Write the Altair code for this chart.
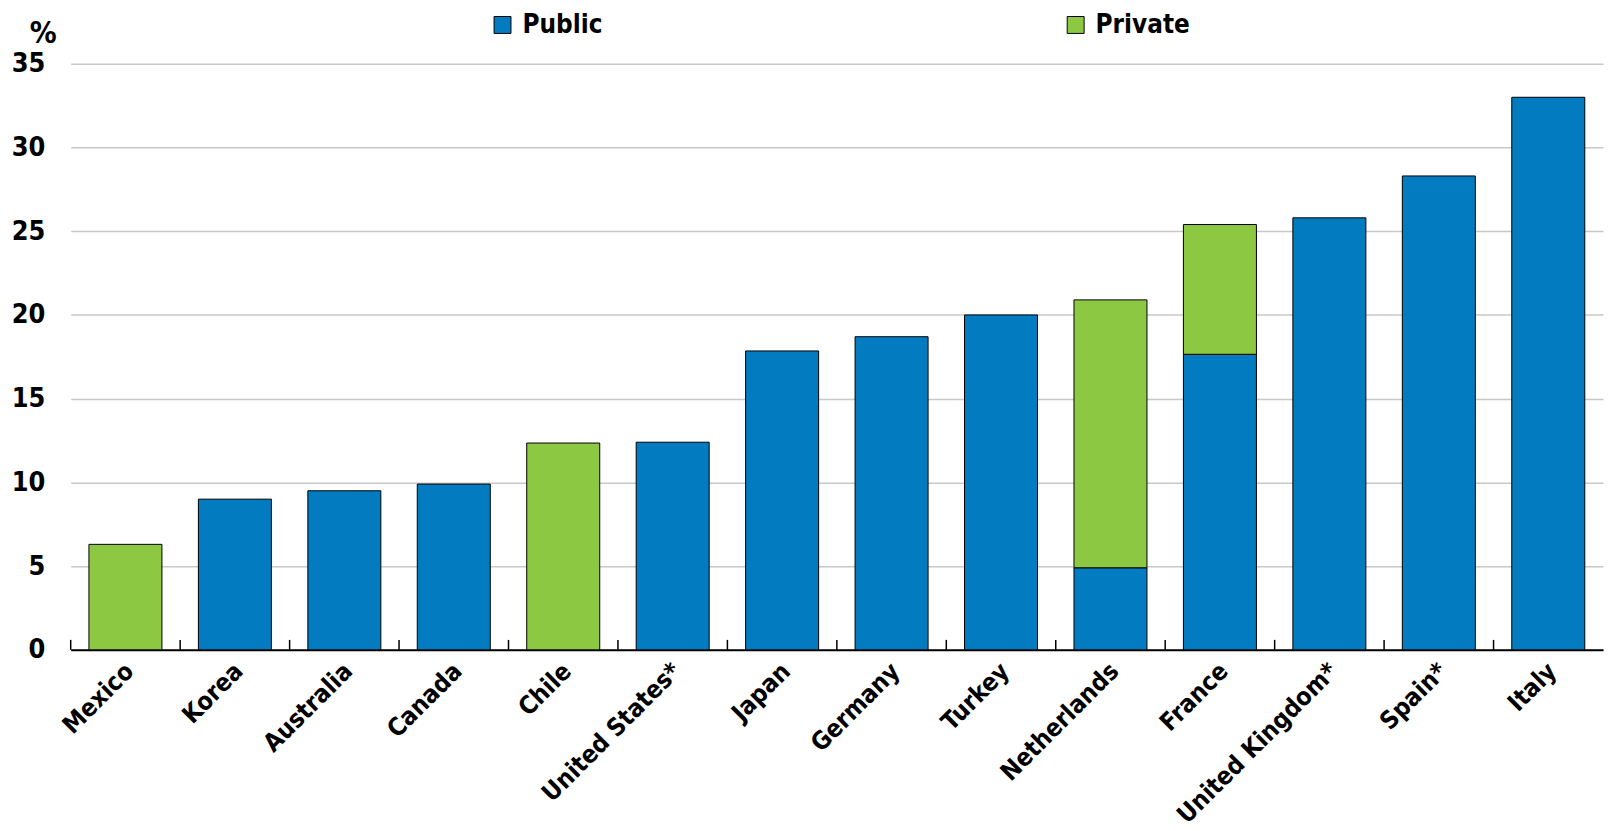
import altair as alt
import pandas as pd

FONT = "DejaVu Sans Condensed, Liberation Sans Narrow, sans-serif"

countries = [
    "Mexico", "Korea", "Australia", "Canada", "Chile", "United States*", "Japan",
    "Germany", "Turkey", "Netherlands", "France", "United Kingdom*", "Spain*", "Italy",
]
public = [0.0, 9.0, 9.5, 9.9, 0.0, 12.4, 17.85, 18.7, 20.0, 4.9, 17.65, 25.8, 28.3, 33.0]
private = [6.3, 0.0, 0.0, 0.0, 12.35, 0.0, 0.0, 0.0, 0.0, 16.0, 7.75, 0.0, 0.0, 0.0]

series = ["Public", "Private"]
colors = ["#037BC1", "#8CC841"]

rows = []
for c, pu, pr in zip(countries, public, private):
    if pu > 0:
        rows.append({"country": c, "sector": "Public", "value": pu, "k": 0})
    if pr > 0:
        rows.append({"country": c, "sector": "Private", "value": pr, "k": 1})
df = pd.DataFrame(rows)

W, H = 1540, 589

x_enc = alt.X(
    "country:N",
    sort=countries,
    scale=alt.Scale(paddingInner=0.333, paddingOuter=0.1667),
    axis=alt.Axis(
        title=None,
        labelAngle=315,
        labelAlign="right",
        labelBaseline="middle",
        labelFont=FONT,
        labelFontSize=25,
        labelFontWeight="bold",
        labelColor="black",
        labelPadding=17,
        labelOffset=4,
        labelLimit=0,
        ticks=False,
        domainColor="black",
        domainWidth=2,
        grid=False,
    ),
)

bars = alt.Chart(df).mark_bar(stroke="black", strokeWidth=1).encode(
    x=x_enc,
    y=alt.Y(
        "value:Q",
        stack="zero",
        scale=alt.Scale(domain=[0, 35], nice=False),
        axis=alt.Axis(
            title="%",
            titleAngle=0,
            titleAlign="center",
            titleBaseline="alphabetic",
            titleX=-28,
            titleY=-21,
            titleFont=FONT,
            titleFontSize=30,
            titleFontWeight="bold",
            titleColor="black",
            values=[0, 5, 10, 15, 20, 25, 30, 35],
            labelFont=FONT,
            labelFontSize=27,
            labelFontWeight="bold",
            labelColor="black",
            labelPadding=26,
            ticks=False,
            domain=False,
            gridColor="#C8C8C8",
            gridWidth=1.5,
        ),
    ),
    color=alt.Color(
        "sector:N",
        scale=alt.Scale(domain=series, range=colors),
        legend=alt.Legend(
            title=None,
            orient="none",
            direction="horizontal",
            legendX=421,
            legendY=-52,
            padding=0,
            symbolType="square",
            symbolSize=289,
            symbolStrokeColor="black",
            symbolStrokeWidth=1,
            symbolOpacity=1,
            labelFont=FONT,
            labelFontSize=26,
            labelFontWeight="bold",
            labelColor="black",
            labelOffset=7,
            columnPadding=462,
        ),
    ),
    order=alt.Order("k:Q"),
)

# small tick marks between the bars, pointing up from the axis line
ticks = alt.Chart(pd.DataFrame({"country": countries})).mark_rule(
    color="black", strokeWidth=1.5, xOffset=-55
).encode(
    x=alt.X("country:N", sort=countries),
    y=alt.value(H),
    y2=alt.value(H - 10),
)

chart = alt.layer(bars, ticks).properties(
    width=W,
    height=H,
    autosize=alt.AutoSizeParams(type="none"),
    padding={"left": 63, "top": 54, "right": 3, "bottom": 179},
).configure_view(stroke=None)

chart.save("out.html", embed_options={"renderer": "svg", "actions": False})
